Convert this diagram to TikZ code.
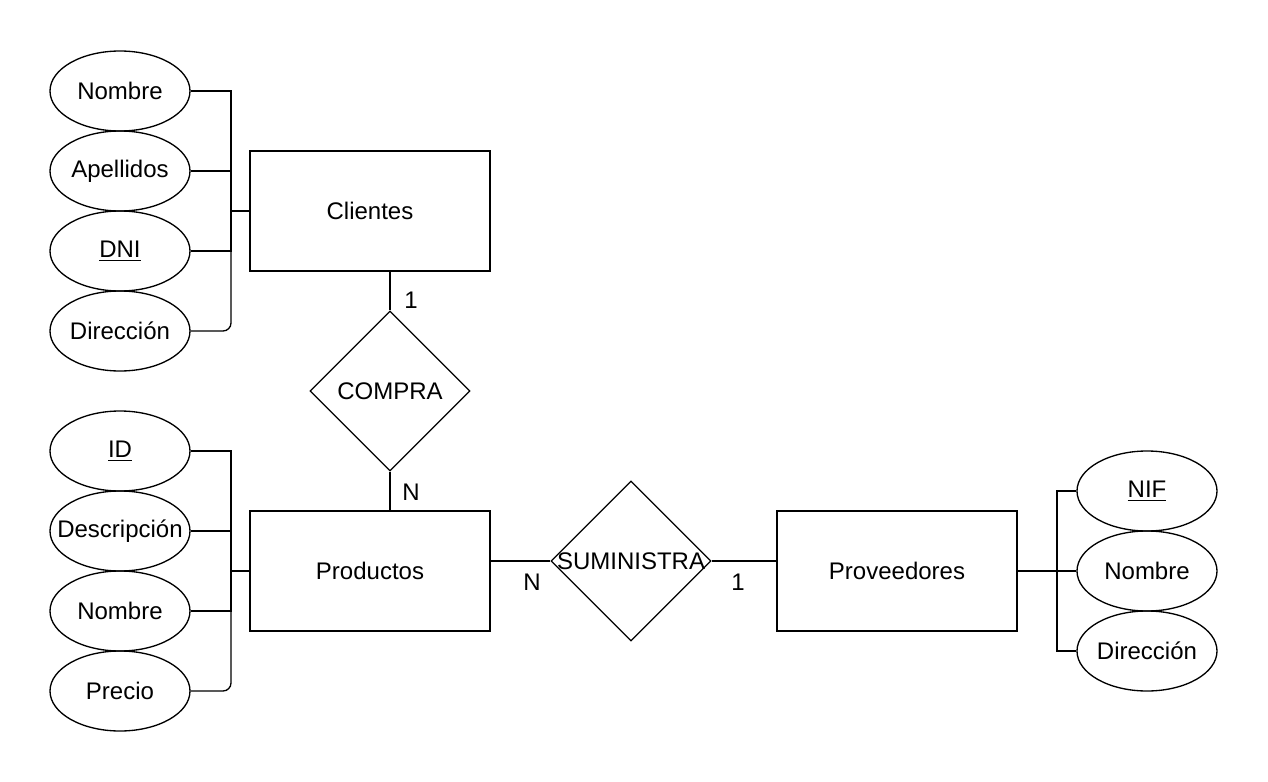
\documentclass[tikz,border=0pt]{standalone}
\usepackage{fontspec}
\setmainfont{Liberation Sans}
\usetikzlibrary{shapes.geometric}
\tikzstyle{entity}=[draw,minimum width=180pt,minimum height=90pt,inner sep=0pt]
\tikzstyle{attr}=[draw,ellipse,minimum width=105pt,minimum height=60pt,inner sep=0pt]
\tikzstyle{relation}=[draw,diamond,minimum width=120pt,minimum height=120pt,inner sep=0pt]
\tikzstyle{card}=[inner sep=0pt]
\newcommand{\wide}[1]{\makebox[0pt]{#1}}

\begin{document}
\begin{tikzpicture}[x=0.75pt,y=-0.75pt,line width=1pt,font=\fontsize{18}{21}\selectfont]
\useasboundingbox (0,0) rectangle (1268,782);
% Clientes
\node[entity] at (370, 211) (clientes) {Clientes};
\node[attr] at (120, 91) (cnom) {Nombre};
\node[attr] at (120, 171) (cape) {Apellidos};
\node[attr] at (120, 251) (cdni) {\underline{DNI}};
\node[attr] at (120, 331) (cdir) {\wide{Dirección}};
\coordinate (cj) at (231, 211);
\draw (cnom.east) -| (cj);
\draw (cape.east) -| (cj);
\draw (cdni.east) -| (cj);
\draw[rounded corners=6pt] (cdir.east) -| (cj);
\draw (cj) -- (clientes.west);
% Productos
\node[entity] at (370, 571) (productos) {Productos};
\node[attr] at (120, 451) (pid) {\underline{ID}};
\node[attr] at (120, 531) (pdesc) {\wide{Descripción}};
\node[attr] at (120, 611) (pnom) {Nombre};
\node[attr] at (120, 691) (ppre) {Precio};
\coordinate (pj) at (231, 571);
\draw (pid.east) -| (pj);
\draw (pdesc.east) -| (pj);
\draw (pnom.east) -| (pj);
\draw[rounded corners=6pt] (ppre.east) -| (pj);
\draw (pj) -- (productos.west);
% Proveedores
\node[entity] at (897, 571) (proveedores) {Proveedores};
\node[attr] at (1147, 491) (vnif) {\underline{NIF}};
\node[attr] at (1147, 571) (vnom) {Nombre};
\node[attr] at (1147, 651) (vdir) {\wide{Dirección}};
\coordinate (vj) at (1057, 571);
\draw (vnif.west) -| (vj);
\draw (vnom.west) -- (vj);
\draw (vdir.west) -| (vj);
\draw (vj) -- (proveedores.east);
% relaciones
\node[relation] at (390, 391) (compra) {COMPRA};
\node[relation] at (631, 561) (suministra) {\wide{SUMINISTRA}};
\draw (clientes.south -| compra.north) -- (compra.north);
\draw (compra.south) -- (productos.north -| compra.south);
\draw (suministra.west -| productos.east) -- (suministra.west);
\draw (suministra.east) -- (suministra.east -| proveedores.west);
\node[card] at (411, 300) (c1) {1};
\node[card] at (411, 492) (cn) {N};
\node[card] at (532, 582) (sn) {N};
\node[card] at (738, 582) (s1) {1};
\end{tikzpicture}
\end{document}
